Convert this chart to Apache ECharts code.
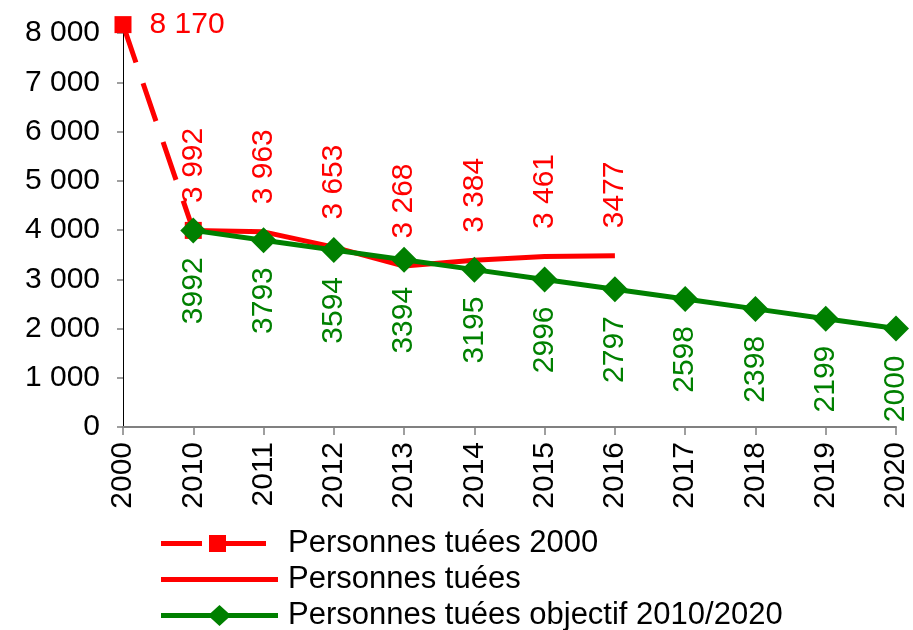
<!DOCTYPE html>
<html><head><meta charset="utf-8">
<script src="https://cdn.jsdelivr.net/npm/echarts@6/dist/echarts.min.js"></script>
<style>html,body{margin:0;padding:0;background:#fff}#c{width:913px;height:630px}</style>
</head><body><div id="c"></div>
<script>
const categories = ['2000','2010','2011','2012','2013','2014','2015','2016','2017','2018','2019','2020'];
const tues2000 = [8170, 3992, null, null, null, null, null, null, null, null, null, null];
const tues2000Labels = ['8 170', '', '', '', '', '', '', '', '', '', '', ''];
const tues = [null, 3992, 3963, 3653, 3268, 3384, 3461, 3477, null, null, null, null];
const tuesLabels = ['', '3 992', '3 963', '3 653', '3 268', '3 384', '3 461', '3477', '', '', '', ''];
const objectif = [null, 3992, 3793, 3594, 3394, 3195, 2996, 2797, 2598, 2398, 2199, 2000];
const seriesNames = ['Personnes tuées 2000', 'Personnes tuées', 'Personnes tuées objectif 2010/2020'];

const FONT = '"Liberation Sans", Arial, sans-serif';
const RED = '#ff0000', GREEN = '#008000';

// legend icons (117 x 24 box): corner specks keep the bounding box fixed
const CORNERS = ' M0 0h0.01v0.01h-0.01Z M116.99 23.99h0.01v0.01h-0.01Z';
const ICON_DASH_SQUARE = 'path://M0 9.5H41V14.5H0Z M48 3.5H65V20.5H48Z M65 9.5H105V14.5H65Z' + CORNERS;
const ICON_LINE = 'path://M0 9.5H117V14.5H0Z' + CORNERS;
const ICON_LINE_DIAMOND = 'path://M0 9.5H117V14.5H0Z M58.5 1.5L70 12L58.5 22.5L47 12Z' + CORNERS;

function fmtThousands(v) {
  if (v >= 1000) return Math.floor(v / 1000) + ' ' + String(v % 1000).padStart(3, '0');
  return String(v);
}

const chart = echarts.init(document.getElementById('c'), null, {renderer: 'canvas'});
chart.setOption({
  animation: false,
  backgroundColor: '#fff',
  textStyle: {fontFamily: FONT},
  grid: {left: 123, right: 17, top: 33, bottom: 203, containLabel: false, outerBoundsMode: 'none'},
  xAxis: {
    type: 'category', data: categories, boundaryGap: false,
    axisLine: {show: true, lineStyle: {color: '#808080', width: 2}},
    axisTick: {show: true, length: 8, lineStyle: {color: '#808080', width: 1.5}},
    axisLabel: {rotate: 90, fontSize: 30, color: '#000', margin: 15, fontFamily: FONT},
    splitLine: {show: false}
  },
  yAxis: {
    type: 'value', min: 0, max: 8000, interval: 1000,
    axisLine: {show: true, lineStyle: {color: '#000', width: 1}},
    axisTick: {show: true, length: 6, lineStyle: {color: '#808080', width: 1.5}},
    axisLabel: {fontSize: 30, color: '#000', margin: 23, fontFamily: FONT, formatter: fmtThousands},
    splitLine: {show: false}
  },
  legend: {
    orient: 'vertical', left: 161, top: 528, height: 110, padding: 0,
    itemWidth: 117, itemHeight: 24, itemGap: 5,
    symbolKeepAspect: false,
    selectedMode: false,
    data: [
      {name: seriesNames[0], icon: ICON_DASH_SQUARE, itemStyle: {color: RED, borderWidth: 0}},
      {name: seriesNames[1], icon: ICON_LINE, itemStyle: {color: RED, borderWidth: 0}},
      {name: seriesNames[2], icon: ICON_LINE_DIAMOND, itemStyle: {color: GREEN, borderWidth: 0}}
    ],
    textStyle: {fontSize: 31, color: '#000', fontFamily: FONT, padding: [0, 0, 0, 5]}
  },
  series: [
    {
      name: seriesNames[0], type: 'line', z: 2, clip: false,
      data: tues2000, connectNulls: false,
      symbol: 'rect', symbolSize: 17,
      itemStyle: {color: RED},
      lineStyle: {color: RED, width: 5, type: [40, 22]},
      label: {
        show: true, position: 'right', distance: 18, fontSize: 30, color: RED, fontFamily: FONT,
        formatter: p => tues2000Labels[p.dataIndex]
      }
    },
    {
      name: seriesNames[1], type: 'line', z: 3,
      data: tues, connectNulls: false,
      symbol: 'circle', symbolSize: 1,
      itemStyle: {color: 'rgba(255,0,0,0)'},
      lineStyle: {color: RED, width: 5},
      label: {
        show: true, position: 'top', distance: 27, rotate: 90, align: 'left', verticalAlign: 'middle',
        fontSize: 30, color: RED, fontFamily: FONT,
        formatter: p => tuesLabels[p.dataIndex]
      }
    },
    {
      name: seriesNames[2], type: 'line', z: 4,
      data: objectif, connectNulls: false,
      symbol: 'diamond', symbolSize: 26,
      itemStyle: {color: GREEN},
      lineStyle: {color: GREEN, width: 5},
      label: {
        show: true, position: 'bottom', distance: 14, rotate: 90, align: 'right', verticalAlign: 'middle',
        fontSize: 30, color: GREEN, fontFamily: FONT,
        formatter: p => String(p.value)
      }
    }
  ]
});
</script>
</body></html>
